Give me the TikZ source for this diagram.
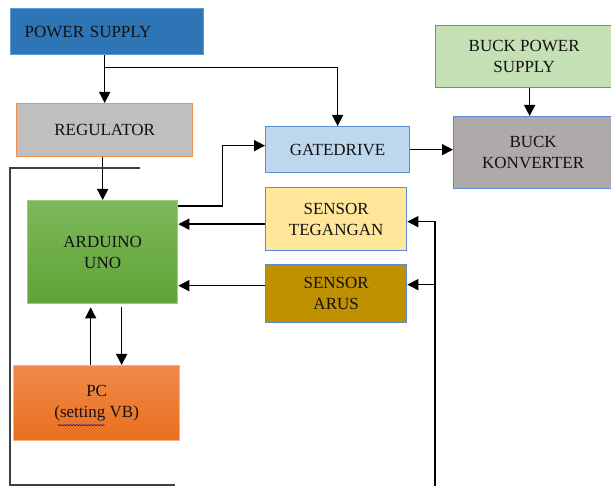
\documentclass[tikz,border=0pt]{standalone}
\usepackage{fontspec}
\setmainfont{Liberation Serif}
\usetikzlibrary{arrows.meta,decorations.pathmorphing}
\definecolor{psfill}{HTML}{2E75B6}
\definecolor{psborder}{HTML}{5B9BD5}
\definecolor{regfill}{HTML}{BFBFBF}
\definecolor{regborder}{HTML}{F0914D}
\definecolor{gatefill}{HTML}{BDD7EE}
\definecolor{bordblue}{HTML}{5B8BD6}
\definecolor{bpsfill}{HTML}{C5E0B4}
\definecolor{buckfill}{HTML}{AEAAAA}
\definecolor{tegfill}{HTML}{FFE699}
\definecolor{arusfill}{HTML}{BF9000}
\definecolor{ardtop}{HTML}{7CB95A}
\definecolor{ardbot}{HTML}{60A337}
\definecolor{ardborder}{HTML}{9DCB7F}
\definecolor{pctop}{HTML}{F08A4B}
\definecolor{pcbot}{HTML}{EA6E1D}
\definecolor{pcborder}{HTML}{F4B183}
\definecolor{txt}{HTML}{111111}
\definecolor{loopgray}{HTML}{404040}
\begin{document}
\begin{tikzpicture}[x=1pt,y=-1pt,
  box/.style={draw=bordblue,line width=1.3pt,anchor=north west,inner sep=0pt,
    align=center,text=txt,font=\rmfamily\fontsize{17}{21}\selectfont},
  conn/.style={line width=1.4pt,-{Triangle[length=11pt,width=11pt]}},
  plainline/.style={line width=1.4pt}]
\useasboundingbox[fill=white] (0,0) rectangle (611,486);

\node[box,draw=psborder,fill=psfill,minimum width=193pt,minimum height=46pt,
      text width=165pt,inner xsep=14pt,align=left] (ps) at (10,8) {POWER SUPPLY};
\node[box,draw=regborder,fill=regfill,minimum width=176pt,minimum height=53pt] (reg) at (16,103) {REGULATOR};
\node[box,fill=gatefill,minimum width=144pt,minimum height=46pt] (gate) at (265,126) {GATEDRIVE};
\node[box,fill=bpsfill,minimum width=177pt,minimum height=62pt] (bps) at (435,25) {BUCK POWER\\SUPPLY};
\node[box,fill=buckfill,minimum width=159pt,minimum height=72pt] (buck) at (453,116) {BUCK\\KONVERTER};
\node[box,draw=ardborder,top color=ardtop,bottom color=ardbot,minimum width=150pt,minimum height=103pt] (ard) at (27,200) {ARDUINO\\UNO};
\node[box,fill=tegfill,minimum width=141pt,minimum height=63pt] (teg) at (265,187) {SENSOR\\TEGANGAN};
\node[box,fill=arusfill,minimum width=141pt,minimum height=58pt] (arus) at (265,264) {SENSOR\\ARUS};
\node[box,draw=pcborder,top color=pctop,bottom color=pcbot,minimum width=166pt,minimum height=75pt] (pc) at (13,365) {PC\\(setting VB)};

% spell-check underline
\draw[decorate,decoration={snake,amplitude=0.6pt,segment length=3pt},blue!75!black,line width=0.5pt]
  ([shift={(-39pt,-22pt)}]pc.center) -- ++(47,0);

% connectors
\draw[conn] (reg.north |- ps.south) -- (reg.north);
\draw[conn] ([yshift=-12pt]reg.north |- ps.south) -- ([yshift=-12pt]gate.north |- ps.south) -- (gate.north);
\draw[conn] (reg.south -| ard.north) -- (ard.north);
\draw[conn] ([yshift=-6pt]ard.north east) -- ++(44,0) |- ([yshift=4pt]gate.west);
\draw[conn] (gate.east) -- (gate.east -| buck.west);
\draw[conn] ([xshift=-3.5pt]buck.north |- bps.south) -- ([xshift=-3.5pt]buck.north);
\draw[conn] ([yshift=-5pt]teg.west) -- ([yshift=-5pt]teg.west -| ard.east);
\draw[conn] ([yshift=8pt]arus.west) -- ([yshift=8pt]arus.west -| ard.east);

\coordinate (rb) at (435,488);
\draw[conn] (rb) |- ([yshift=-2.5pt]teg.east);
\draw[conn] ([yshift=9pt]arus.east -| rb) -- ([yshift=9pt]arus.east);

\draw[conn,shorten >=3pt] ([xshift=-12pt]ard.south |- pc.north) -- ([xshift=-12pt]ard.south);
\draw[conn,shorten <=3pt] ([xshift=19pt]ard.south) -- ([xshift=19pt]ard.south |- pc.north);

\coordinate (lt) at (140,168);
\coordinate (lb) at (175,485);
\draw[plainline,draw=loopgray] (lt) -- ++(-130,0) |- (lb);
\end{tikzpicture}
\end{document}
